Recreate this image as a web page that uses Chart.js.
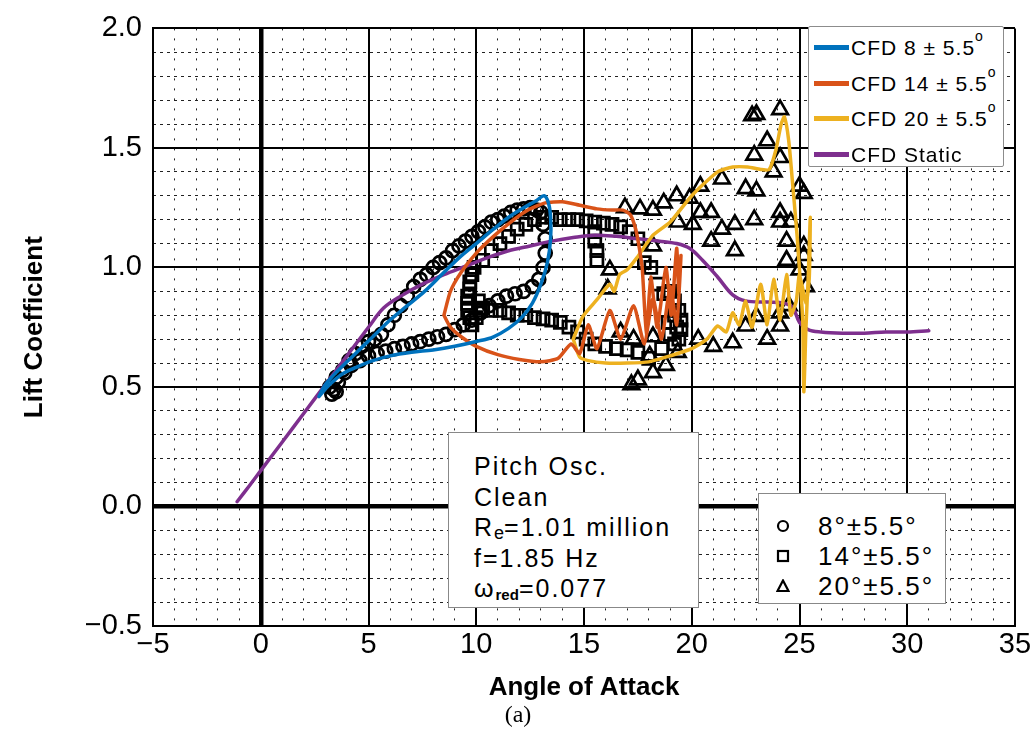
<!DOCTYPE html>
<html>
<head>
<meta charset="utf-8">
<script src="https://cdn.jsdelivr.net/npm/chart.js@4/dist/chart.umd.min.js"></script>
<style>
  body { margin: 0; background: #fff; }
  #wrap { position: relative; width: 1036px; height: 745px; font-family: "Liberation Sans", Arial, sans-serif; }
  .box { position: absolute; background: #fff; box-sizing: border-box; color: #000; }
  #cfdLegend { left: 808px; top: 26px; width: 196px; height: 141px; border: 1px solid #8c8c8c; border-radius: 2px; padding-top: 3px; }
  #cfdLegend .row { position: relative; height: 35.5px; font-size: 21px; letter-spacing: 1px; line-height: 35.5px; white-space: nowrap; }
  #cfdLegend .sw { position: absolute; left: 5px; top: 15px; width: 35px; height: 5px; }
  #cfdLegend .tx { position: absolute; left: 42px; top: 0; }
  #cfdLegend sup { font-size: 14px; position: relative; top: -4px; vertical-align: top; line-height: 20px; }
  #info { left: 448px; top: 432px; width: 251px; height: 176px; border: 1.5px solid #888; padding: 18px 0 0 25px; font-size: 25px; letter-spacing: 2px; line-height: 30.5px; }
  #info sub { font-size: 18px; vertical-align: -3px; line-height: 0; letter-spacing: 0; }
  #info sub.b { font-weight: bold; font-size: 15px; }
  #expLegend { left: 758px; top: 493px; width: 188px; height: 111px; border: 1.5px solid #888; padding-top: 17px; }
  #expLegend .row { position: relative; height: 30px; line-height: 30px; font-size: 26px; letter-spacing: 2px; }
  #expLegend svg { position: absolute; left: 17px; top: 8px; }
  #expLegend .tx { position: absolute; left: 59px; top: 0; }
  #caption { position: absolute; left: 0; top: 701px; width: 1036px; text-align: center; font-family: "Liberation Serif", "Times New Roman", serif; font-size: 24px; }
</style>
</head>
<body>
<div id="wrap">
  <canvas id="chart" width="1036" height="745"></canvas>
  <div id="cfdLegend" class="box"></div>
  <div id="info" class="box">
    Pitch Osc.<br>
    Clean<br>
    R<sub>e</sub>=1.01 million<br>
    f=1.85 Hz<br>
    ω<sub class="b">red</sub>=0.077
  </div>
  <div id="expLegend" class="box"></div>
  <div id="caption">(a)</div>
</div>
<script>
// axis ticks
const xTicks = [-5, 0, 5, 10, 15, 20, 25, 30, 35]
const yTicks = [-0.5, 0, 0.5, 1.0, 1.5, 2.0]

// CFD static
const staticAoa = [-1.1, -0.5, 0, 1, 2, 3, 4, 5, 5.7, 6.5, 7.5, 8.5, 9.5, 10.5, 11.5, 12.5, 13.5, 14.5, 15.5, 16.5, 17.5, 18.5, 19.3, 19.9, 20.5, 21.2, 21.9, 22.5, 23.5, 24.3, 24.7, 25.0, 25.4, 26, 27, 28, 29, 30, 31]
const staticCl = [0.02, 0.09, 0.15, 0.27, 0.39, 0.51, 0.63, 0.75, 0.83, 0.88, 0.93, 0.97, 1.005, 1.04, 1.07, 1.09, 1.11, 1.125, 1.135, 1.13, 1.12, 1.11, 1.10, 1.08, 1.03, 0.96, 0.885, 0.86, 0.855, 0.85, 0.83, 0.77, 0.74, 0.73, 0.725, 0.725, 0.73, 0.73, 0.735]

// CFD 8 +- 5.5
const cfd8Aoa = [2.7, 3.2, 3.8, 4.5, 5.2, 6, 7, 8, 9, 10, 10.8, 11.5, 12.1, 12.6, 13.0, 13.3, 13.45, 13.45, 13.35, 13.15, 12.8, 12.2, 11.5, 10.8, 10.0, 9.2, 8.4, 7.6, 6.8, 6.0, 5.2, 4.4, 3.6, 3.0, 2.7]
const cfd8Cl = [0.46, 0.51, 0.555, 0.585, 0.61, 0.63, 0.645, 0.655, 0.67, 0.69, 0.71, 0.745, 0.79, 0.85, 0.93, 1.02, 1.12, 1.21, 1.27, 1.30, 1.28, 1.25, 1.21, 1.16, 1.1, 1.04, 0.97, 0.9, 0.84, 0.78, 0.71, 0.64, 0.57, 0.51, 0.46]

// CFD 14 +- 5.5
const cfd14Aoa = [8.5, 8.8, 9.3, 10.0, 10.8, 11.6, 12.4, 13.2, 14.0, 14.8, 15.6, 16.3, 16.8, 17.15, 17.4, 17.55, 17.7, 17.9, 18.1, 18.4, 18.8, 19.05, 19.3, 19.4, 19.5, 19.3, 19.0, 18.6, 18.2, 17.8, 17.3, 16.7, 16.2, 15.6, 15.2, 14.8, 14.4, 13.8, 13.0, 12.0, 11.0, 10.0, 9.3, 8.8, 8.5]
const cfd14Cl = [0.80, 0.90, 0.98, 1.06, 1.13, 1.19, 1.24, 1.27, 1.275, 1.26, 1.245, 1.24, 1.24, 1.22, 1.16, 1.09, 1.0, 0.72, 0.96, 0.75, 1.0, 0.8, 1.08, 0.89, 1.05, 0.76, 0.92, 0.7, 0.87, 0.68, 0.84, 0.7, 0.82, 0.66, 0.76, 0.64, 0.68, 0.62, 0.605, 0.615, 0.635, 0.67, 0.71, 0.75, 0.80]

// CFD 20 +- 5.5
const cfd20Aoa = [14.5, 14.95, 15.6, 16.2, 16.4, 16.65, 17.0, 17.45, 18.2, 19.0, 20.0, 21.2, 21.9, 22.6, 23.2, 23.6, 23.9, 24.15, 24.3, 24.5, 24.7, 24.9, 25.05, 25.15, 25.2, 25.3, 25.4, 25.5, 25.45, 25.3, 25.0, 24.85, 24.6, 24.4, 24.1, 23.8, 23.5, 23.2, 22.8, 22.5, 22.2, 21.9, 21.6, 21.2, 20.7, 20.0, 19.0, 18.0, 17.0, 16.0, 15.2, 14.8, 14.5]
const cfd20Cl = [0.70, 0.795, 0.865, 0.93, 0.90, 0.97, 0.99, 1.04, 1.135, 1.19, 1.30, 1.40, 1.42, 1.42, 1.41, 1.41, 1.49, 1.60, 1.63, 1.53, 1.33, 1.12, 0.92, 0.78, 0.48, 0.75, 0.95, 1.21, 0.95, 0.85, 0.97, 0.86, 0.80, 0.97, 0.78, 0.95, 0.76, 0.93, 0.75, 0.86, 0.76, 0.81, 0.73, 0.755, 0.70, 0.66, 0.63, 0.605, 0.60, 0.60, 0.61, 0.625, 0.70]

// experiment 8 +- 5.5 (circles)
const exp8Aoa = [3.2, 3.5, 3.8, 4.1, 4.4, 4.7, 5.0, 5.3, 5.6, 5.9, 6.2, 6.5, 6.8, 7.1, 7.4, 7.7, 8.0, 8.3, 8.6, 8.9, 9.2, 9.5, 9.8, 10.1, 10.4, 10.7, 11.0, 11.3, 11.6, 11.9, 12.2, 12.5, 12.8, 13.0,
  13.1, 13.2, 13.2, 13.1, 12.9, 12.6, 12.2, 11.8, 11.4, 11.0, 10.6, 10.2, 9.8, 9.4, 9.0, 8.6, 8.2, 7.8, 7.4, 7.0, 6.6, 6.2, 5.8, 5.4, 5.0, 4.6, 4.2, 3.9, 3.6, 3.4, 3.3, 3.5]
const exp8Cl = [0.50, 0.54, 0.57, 0.61, 0.64, 0.67, 0.69, 0.70, 0.72, 0.76, 0.80, 0.84, 0.88, 0.92, 0.95, 0.97, 1.0, 1.02, 1.04, 1.07, 1.09, 1.11, 1.13, 1.15, 1.17, 1.19, 1.2, 1.215, 1.23, 1.24, 1.245, 1.25, 1.24, 1.23,
  1.18, 1.12, 1.06, 1.0, 0.95, 0.92, 0.90, 0.89, 0.88, 0.86, 0.84, 0.81, 0.78, 0.76, 0.74, 0.72, 0.71, 0.70, 0.69, 0.68, 0.67, 0.66, 0.65, 0.64, 0.63, 0.61, 0.59, 0.56, 0.52, 0.49, 0.47, 0.48]

// experiment 14 +- 5.5 (squares)
const exp14Aoa = [9.8, 9.7, 9.6, 9.6, 9.6, 9.7, 9.7, 9.8, 9.9, 10.0, 10.2, 10.1,
  10.3, 10.7, 11.1, 11.5, 11.9, 12.3, 12.7, 13.1, 13.5, 13.9, 14.3, 14.7, 15.1, 15.5, 15.9, 16.3, 16.7, 17.1, 17.5,
  15.5, 15.5, 15.6, 15.6,
  17.8, 18.1, 18.4, 18.7, 19.0, 19.2, 19.4, 19.5, 19.5, 19.4, 19.2, 19.0, 18.9, 19.2, 19.3,
  18.6, 18.0, 17.5, 17.0, 16.5, 16.0, 15.5, 15.1, 14.7, 14.3, 13.9, 13.5, 13.1, 12.7, 12.3, 11.9, 11.5, 11.1, 10.7, 10.3]
const exp14Cl = [0.76, 0.79, 0.82, 0.85, 0.88, 0.91, 0.94, 0.97, 1.0, 0.79, 0.82, 0.86,
  1.03, 1.07, 1.1, 1.13, 1.16, 1.18, 1.2, 1.21, 1.21, 1.2, 1.2, 1.2, 1.195, 1.19, 1.185, 1.18, 1.17, 1.15, 1.12,
  1.15, 1.11, 1.07, 1.03,
  1.02, 1.0, 0.93, 0.89, 0.9, 0.86, 0.82, 0.78, 0.74, 0.70, 0.68, 0.72, 0.77, 0.80, 0.75,
  0.66, 0.62, 0.645, 0.655, 0.66, 0.67, 0.68, 0.70, 0.73, 0.75, 0.77, 0.78, 0.785, 0.79, 0.80, 0.80, 0.81, 0.82, 0.82, 0.83]

// experiment 20 +- 5.5 (triangles)
const exp20Aoa = [17.2, 17.5, 18.2, 18.8, 19.35, 20.3, 21.0, 21.9, 22.5, 23.0, 23.5, 24.1, 24.1, 24.5,
  16.1, 16.2, 16.7, 17.3, 18.05, 18.2,
  16.9, 17.6, 18.2, 18.7, 19.3, 19.9, 20.4, 21.4, 20.4, 20.9, 20.05, 19.35, 18.2, 20.9, 21.4, 22.0, 22.0, 22.9, 22.5, 23.0,
  22.8, 23.0, 24.1, 23.5, 22.9, 24.1, 23.8, 24.1, 24.1, 24.6, 25.0, 25.2, 24.4, 25.2, 24.4, 25.2, 25.0, 25.3]
const exp20Cl = [0.51, 0.53, 0.56, 0.59, 0.645, 0.70, 0.67, 0.685, 0.755, 0.795, 0.70, 0.755, 0.81, 0.84,
  0.91, 0.99, 0.73, 0.70, 0.63, 0.71,
  1.25, 1.245, 1.24, 1.27, 1.3, 1.29, 1.34, 1.37, 1.23, 1.23, 1.18, 1.19, 1.09, 1.11, 1.16, 1.18, 1.07, 1.2, 1.33, 1.32,
  1.635, 1.64, 1.66, 1.53, 1.47, 1.46, 1.40, 1.23, 1.19, 1.19, 1.34, 1.31, 1.11, 1.09, 1.03, 1.05, 0.99, 0.92]

const cfdLabels = ['CFD 8 \u00b1 5.5', 'CFD 14 \u00b1 5.5', 'CFD 20 \u00b1 5.5', 'CFD Static']
const cfdColors = ['#0072BD', '#D95319', '#EDB120', '#7E2F8E']
const expLabels = ['8\u00b0\u00b15.5\u00b0', '14\u00b0\u00b15.5\u00b0', '20\u00b0\u00b15.5\u00b0']
const expStyles = ['circle', 'rect', 'triangle']

function pts(xs, ys) {
    return xs.map((x, i) => ({ x: x, y: ys[i] }))
}

function lineSet(label, xs, ys, color, tension) {
    return {
        label: label,
        data: pts(xs, ys),
        showLine: true,
        borderColor: color,
        backgroundColor: color,
        borderWidth: 3.5,
        pointRadius: 0,
        tension: tension,
        borderJoinStyle: 'round',
        borderCapStyle: 'round',
        order: 0
    }
}

function markSet(label, xs, ys, style, r) {
    return {
        label: label,
        data: pts(xs, ys),
        showLine: false,
        pointStyle: style,
        pointRadius: r,
        borderColor: '#000',
        backgroundColor: 'rgba(0,0,0,0)',
        pointBorderWidth: 2.7,
        order: 1
    }
}

const isMajor = (v, step) => Math.abs(v / step - Math.round(v / step)) < 1e-6
const minus = v => v < 0 ? '\u2212' : ''

const tickFont = { family: '"Liberation Sans", Arial, sans-serif', size: 29 }
const titleFont = { family: '"Liberation Sans", Arial, sans-serif', size: 26, weight: 'bold' }

new Chart(document.getElementById('chart').getContext('2d'), {
    type: 'scatter',
    data: {
        datasets: [
            lineSet(cfdLabels[0], cfd8Aoa, cfd8Cl, cfdColors[0], 0.35),
            lineSet(cfdLabels[1], cfd14Aoa, cfd14Cl, cfdColors[1], 0.2),
            lineSet(cfdLabels[2], cfd20Aoa, cfd20Cl, cfdColors[2], 0.2),
            lineSet(cfdLabels[3], staticAoa, staticCl, cfdColors[3], 0.35),
            markSet(expLabels[0], exp8Aoa, exp8Cl, expStyles[0], 6.5),
            markSet(expLabels[1], exp14Aoa, exp14Cl, expStyles[1], 8.5),
            markSet(expLabels[2], exp20Aoa, exp20Cl, expStyles[2], 9)
        ]
    },
    options: {
        responsive: false,
        animation: false,
        layout: { padding: { top: 16, right: 21, left: 0, bottom: 0 } },
        plugins: { legend: { display: false }, tooltip: { enabled: false } },
        scales: {
            xMinor: {
                type: 'linear', position: 'bottom', min: -5, max: 35,
                ticks: { display: false, stepSize: 1 },
                grid: { drawTicks: false, lineWidth: 1, color: c => isMajor(c.tick.value, 5) ? 'rgba(0,0,0,0)' : '#222' },
                border: { display: false, dash: [2, 8] },
                afterFit: s => { s.height = 0 }
            },
            yMinor: {
                type: 'linear', position: 'left', min: -0.5, max: 2.0,
                ticks: { display: false, stepSize: 0.1 },
                grid: { drawTicks: false, lineWidth: 1, color: c => isMajor(c.tick.value, 0.5) ? 'rgba(0,0,0,0)' : '#222' },
                border: { display: false, dash: [3, 4] },
                afterFit: s => { s.width = 0 }
            },
            x: {
                type: 'linear', position: 'bottom', min: -5, max: 35,
                afterBuildTicks: s => { s.ticks = xTicks.map(v => ({ value: v })) },
                ticks: { color: '#000', font: tickFont, padding: 2, callback: v => minus(v) + Math.abs(v) },
                grid: { drawTicks: false, color: '#000', lineWidth: c => c.tick.value === 0 ? 4.5 : 2 },
                border: { display: true, color: '#000', width: 2 },
                title: { display: true, text: 'Angle of Attack', color: '#000', font: titleFont, padding: { bottom: 42 } },
                afterFit: s => { s.height = 119 }
            },
            y: {
                type: 'linear', position: 'left', min: -0.5, max: 2.0,
                afterBuildTicks: s => { s.ticks = yTicks.map(v => ({ value: v })) },
                ticks: { color: '#000', font: tickFont, padding: 11, callback: v => minus(v) + Math.abs(v).toFixed(1) },
                grid: { drawTicks: false, color: '#000', lineWidth: c => Math.abs(c.tick.value) < 1e-9 ? 4.5 : 2 },
                border: { display: true, color: '#000', width: 2 },
                title: { display: true, text: 'Lift Coefficient', color: '#000', font: titleFont, padding: { top: 19 } },
                afterFit: s => { s.width = 153 }
            }
        }
    }
})

// legend for the CFD lines
let leg = document.getElementById('cfdLegend')
cfdLabels.forEach((lab, i) => {
    let row = document.createElement('div')
    row.className = 'row'
    let sup = i < 3 ? '<sup>o</sup>' : ''
    row.innerHTML = '<span class="sw" style="background:' + cfdColors[i] + '"></span><span class="tx">' + lab + sup + '</span>'
    leg.appendChild(row)
})

// legend for the experiment markers
const symbols = {
    circle: '<circle cx="7" cy="7" r="5" fill="none" stroke="#000" stroke-width="2.2"/>',
    rect: '<rect x="2" y="2" width="10" height="10" fill="none" stroke="#000" stroke-width="2.2"/>',
    triangle: '<polygon points="7,1.5 12.5,12 1.5,12" fill="none" stroke="#000" stroke-width="2.2"/>'
}
let expLeg = document.getElementById('expLegend')
expLabels.forEach((lab, i) => {
    let row = document.createElement('div')
    row.className = 'row'
    row.innerHTML = '<svg width="14" height="14">' + symbols[expStyles[i]] + '</svg><span class="tx">' + lab + '</span>'
    expLeg.appendChild(row)
})
</script>
</body>
</html>
